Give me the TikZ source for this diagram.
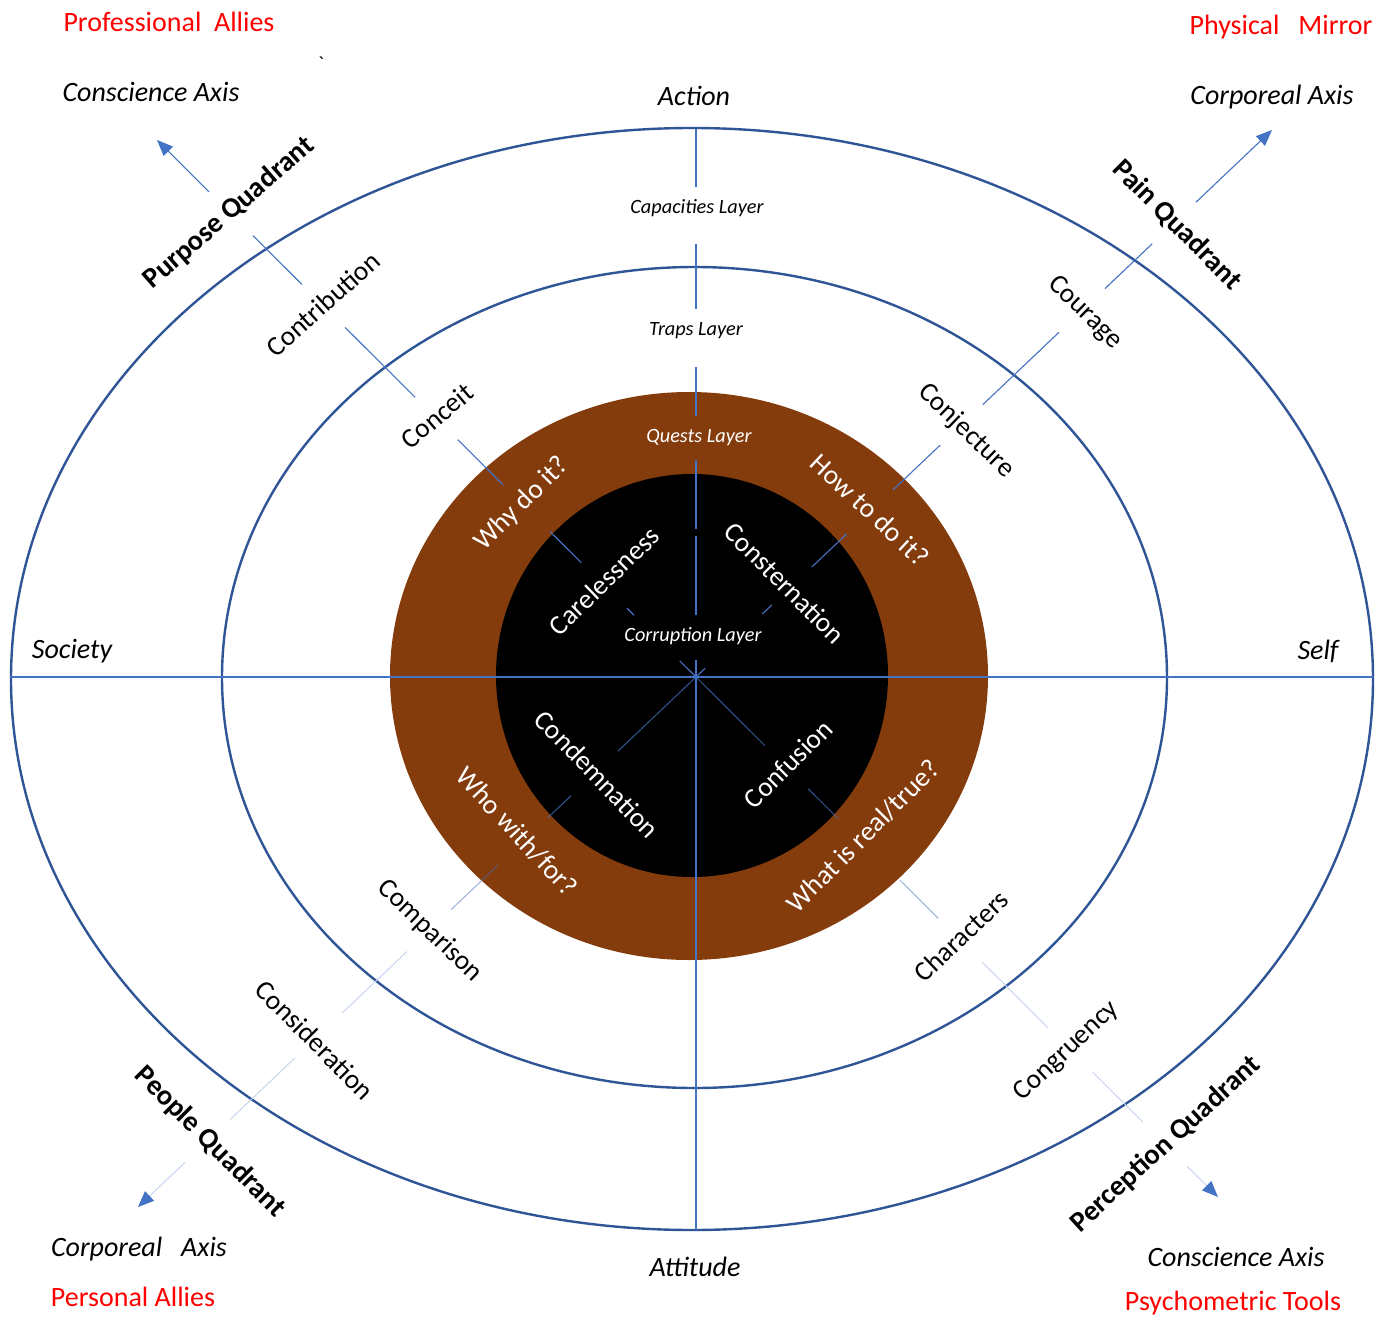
\documentclass[tikz,border=0pt]{standalone}
\usepackage{fontspec}
\setmainfont{Carlito}
\usetikzlibrary{calc,arrows.meta}
\definecolor{ringblue}{RGB}{47,85,151}
\definecolor{axisblue}{RGB}{68,114,196}
\definecolor{faintblue}{RGB}{196,210,238}
\definecolor{ringbrown}{RGB}{132,60,12}
\definecolor{alertred}{RGB}{255,0,0}

\begin{document}
\begin{tikzpicture}[x=1pt,y=-1pt,
  ring/.style={draw=ringblue,line width=2.4pt},
  axis/.style={draw=axisblue,line width=2pt},
  ray/.style={draw=axisblue,line width=1.1pt},
  raydim/.style={draw=axisblue,line width=1pt,draw opacity=0.75},
  rayfaint/.style={draw=faintblue,line width=0.9pt},
  tip/.style={-{Triangle[length=16pt,width=13pt,color=axisblue,fill=axisblue]}},
  word/.style={font=\fontsize{27.5}{30}\selectfont,inner sep=0pt},
  inword/.style={word,text=white},
  quad/.style={font=\fontsize{28.5}{31}\selectfont\bfseries,inner sep=0pt},
  axislbl/.style={font=\fontsize{28}{30}\selectfont\itshape,inner sep=0pt},
  layer/.style={font=\fontsize{20.3}{22}\selectfont\itshape,inner sep=0pt},
  note/.style={font=\fontsize{28}{30}\selectfont,text=alertred,inner sep=0pt}]

\fill[white] (0,0) rectangle (1385,1317);
\useasboundingbox (0,0) rectangle (1385,1317);

% concentric layers
\draw[ring] (692,679) ellipse [x radius=681pt,y radius=551pt];
\draw[ring] (694.5,677.5) ellipse [x radius=472.5pt,y radius=410.5pt];
\fill[ringbrown] (689,676) ellipse [x radius=299pt,y radius=284pt];
\fill[black] (692,675.5) ellipse [x radius=196pt,y radius=201.5pt];

% centre and ray ends
\coordinate (O) at (696,677);
\coordinate (W) at (10,677);
\coordinate (E) at (1373,677);
\coordinate (N) at (696,129);
\coordinate (S) at (696,1230);
\coordinate (NW) at (157,140);
\coordinate (NE) at (1272,130);
\coordinate (SW) at (138,1207);
\coordinate (SE) at (1218,1197);

% axes
\draw[axis] (W) -- (E);
\draw[axis] (O) -- (S);
\foreach \a/\b in {0/.031,.113/.257,.270/.396,.476/.566,.672/.790,.894/1}
  \draw[axis] ($(O)!\a!(N)$) -- ($(O)!\b!(N)$);

% diagonal rays, broken around the labels
\foreach \a/\b in {0/.030,.115/.128,.213/.271,.358/.442,.521/.651,.731/.822}
  \draw[ray] ($(O)!\a!(NW)$) -- ($(O)!\b!(NW)$);
\draw[ray,tip] ($(O)!.9035!(NW)$) -- (NW);
\foreach \a/\b in {0/.016,.115/.132,.201/.262,.342/.424,.498/.630,.710/.792}
  \draw[ray] ($(O)!\a!(NE)$) -- ($(O)!\b!(NE)$);
\draw[ray,tip] ($(O)!.868!(NE)$) -- (NE);

\draw[raydim] (O) -- ($(O)!.140!(SW)$);
\draw[raydim] ($(O)!.224!(SW)$) -- ($(O)!.265!(SW)$);
\draw[raydim,draw opacity=.55] ($(O)!.355!(SW)$) -- ($(O)!.439!(SW)$);
\foreach \a/\b in {.518/.634,.719/.835}
  \draw[rayfaint] ($(O)!\a!(SW)$) -- ($(O)!\b!(SW)$);
\draw[rayfaint,tip] ($(O)!.916!(SW)$) -- (SW);

\draw[raydim] (O) -- ($(O)!.132!(SE)$);
\draw[raydim] ($(O)!.215!(SE)$) -- ($(O)!.272!(SE)$);
\draw[raydim,draw opacity=.55] ($(O)!.391!(SE)$) -- ($(O)!.464!(SE)$);
\foreach \a/\b in {.548/.674,.759/.856}
  \draw[rayfaint] ($(O)!\a!(SE)$) -- ($(O)!\b!(SE)$);
\draw[rayfaint,tip] ($(O)!.941!(SE)$) -- (SE);

% corner notes
\node[note] (profallies) at (169,22) {Professional~~Allies};
\node[note] (physmirror) at (1281,27) {Physical~~~Mirror};
\node[note] (persallies) at (133,1297) {Personal Allies};
\node[note] (psychtools) at (1233,1303) {Psychometric Tools};
\node[axislbl] (conscNW) at (151,92) {Conscience Axis};
\node[axislbl] (corpNE) at (1272,97) {Corporeal Axis};
\node[axislbl] (corpSW) at (139,1249) {Corporeal~~~Axis};
\node[axislbl] (conscSE) at (1236,1257) {Conscience Axis};
\node[font=\fontsize{20}{22}\selectfont,inner sep=0pt] (tick) at (321,64) {\textasciigrave};

% axis names
\node[axislbl] (action) at (694,96) {Action};
\node[axislbl] (attitude) at (695,1267) {Attitude};
\node[axislbl] (society) at (72,651) {Society};
\node[axislbl] (self) at (1318,651) {Self};

% layer names
\node[layer] (capac) at (697,208) {Capacities Layer};
\node[layer] (traps) at (696,331) {Traps Layer};
\node[layer,text=white] (quests) at (699,438) {Quests Layer};
\node[layer,text=white] (corrupt) at (693,636) {Corruption Layer};

% quadrants
\node[quad,rotate=41] (purpose) at (229,213) {Purpose Quadrant};
\node[quad,rotate=-45] (pain) at (1177,225) {Pain Quadrant};
\node[quad,rotate=-45] (people) at (210,1142) {People Quadrant};
\node[quad,rotate=42.5] (percep) at (1166,1144) {Perception Quadrant};

% capacities ring
\node[word,rotate=42] (contrib) at (323,304) {Contribution};
\node[word,rotate=-44] (courage) at (1085,313) {Courage};
\node[word,rotate=-45] (consid) at (315,1040) {Consideration};
\node[word,rotate=43] (congru) at (1067,1051) {Congruency};

% traps ring
\node[word,rotate=40] (conceit) at (437,416) {Conceit};
\node[word,rotate=-44] (conject) at (966,431) {Conjecture};
\node[word,rotate=-44] (compar) at (430,931) {Comparison};
\node[word,rotate=43.5] (charact) at (961,936) {Characters};

% quests ring
\node[inword,rotate=45] (why) at (522,504) {Why do it?};
\node[inword,rotate=-43] (how) at (870,510) {How to do it?};
\node[inword,rotate=-47] (whowith) at (517,832) {Who with/for?};
\node[inword,rotate=45] (whatreal) at (863,836) {What is real/true?};

% corruption core
\node[inword,rotate=44] (careless) at (604,581) {Carelessness};
\node[inword,rotate=-45] (conster) at (785,583) {Consternation};
\node[inword,rotate=-46] (condemn) at (597,774) {Condemnation};
\node[inword,rotate=45] (confus) at (788,764) {Confusion};

\end{tikzpicture}
\end{document}
